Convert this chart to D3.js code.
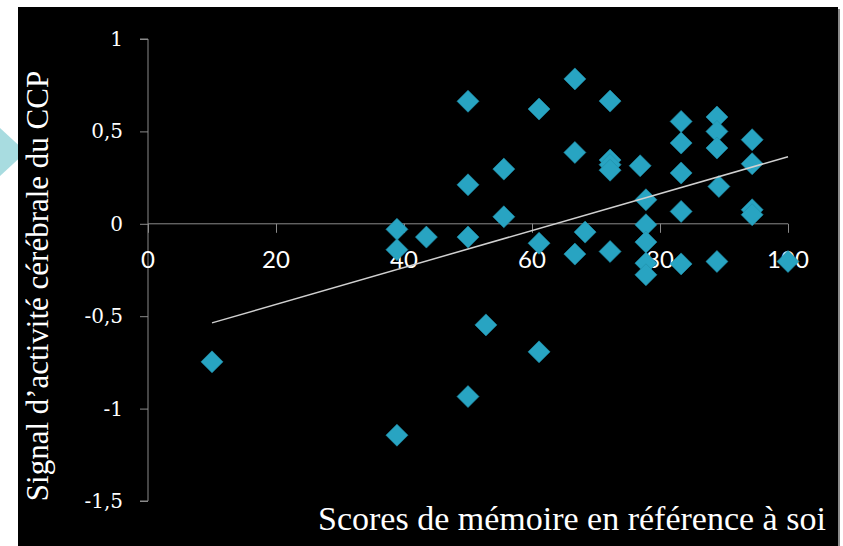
<!DOCTYPE html>
<html>
<head>
<meta charset="utf-8">
<script src="https://cdn.jsdelivr.net/npm/d3@7"></script>
<style>
  html, body { margin: 0; padding: 0; background: #ffffff; }
  svg { display: block; }
</style>
</head>
<body>
<svg id="chart" width="843" height="546"></svg>
<script>
// ---- data ----
const scoreX = [10, 38.9, 38.9, 38.9, 43.5, 50, 50, 50, 50, 52.8, 55.6, 55.6, 61.1, 61.1, 61.1,
  66.7, 66.7, 66.7, 68.3, 72.2, 72.2, 72.2, 72.2, 72.2, 76.9, 77.8, 77.8, 77.8, 77.8, 77.8,
  83.3, 83.3, 83.3, 83.3, 83.3, 88.9, 88.9, 88.9, 89.2, 88.9, 94.4, 94.4, 94.4, 94.4, 100];
const signalY = [-0.747, -0.03, -0.14, -1.144, -0.072, -0.072, 0.663, 0.211, -0.935, -0.547, 0.038, 0.296, 0.621, -0.105, -0.693,
  0.784, 0.386, -0.164, -0.045, 0.664, 0.345, 0.32, 0.29, -0.15, 0.314, 0.13, -0.005, -0.099, -0.213, -0.276,
  0.554, 0.437, 0.275, 0.067, -0.217, 0.578, 0.5, 0.41, 0.202, -0.204, 0.455, 0.325, 0.076, 0.049, -0.204];
const trendX = [10, 100];
const trendY = [-0.536, 0.363];
const xTicks = [0, 20, 40, 60, 80, 100];
const yTicks = [-1.5, -1, -0.5, 0, 0.5, 1];
const yTickLabels = ["-1,5", "-1", "-0,5", "0", "0,5", "1"];
const xTitle = "Scores de mémoire en référence à soi";
const yTitle = "Signal d\u2019activité cérébrale du CCP";

// ---- drawing ----
const svg = d3.select("#chart");

// decorative cyan arrow on the left (behind the slide)
svg.append("polygon")
  .attr("points", "0,128 0,176 26,152")
  .attr("fill", "#a8dce0");

// slide shadow + black slide
svg.append("rect")
  .attr("x", 20).attr("y", 9).attr("width", 820).attr("height", 545)
  .attr("fill", "#8a8a8a");
svg.append("rect")
  .attr("x", 18).attr("y", 7).attr("width", 820).attr("height", 545)
  .attr("fill", "#000000");

const x = d3.scaleLinear().domain([0, 100]).range([148, 788]);
const y = d3.scaleLinear().domain([-1.5, 1]).range([501, 39]);

const axisColor = "#8a8a8a";

// Y axis
const yAxis = svg.append("g").attr("transform", `translate(${x(0)},0)`)
  .call(d3.axisLeft(y).tickValues(yTicks).tickSize(8).tickFormat(""));
yAxis.select(".domain").attr("stroke", axisColor).attr("d", `M-8,${y(1)}H0V${y(-1.5)}H-8`);
yAxis.selectAll(".tick line").attr("stroke", axisColor);

svg.append("g").selectAll("text")
  .data(yTicks)
  .join("text")
  .attr("x", 123)
  .attr("y", d => y(d) + 7)
  .attr("text-anchor", "end")
  .attr("fill", "#ffffff")
  .attr("font-family", "DejaVu Serif, serif")
  .attr("font-size", 20)
  .text((d, i) => yTickLabels[i]);

// X axis
const xAxis = svg.append("g").attr("transform", `translate(0,${y(0)})`)
  .call(d3.axisBottom(x).tickValues(xTicks).tickSize(9).tickFormat(""));
xAxis.select(".domain").attr("stroke", axisColor).attr("d", `M${x(0)},0H${x(100)}`);
xAxis.selectAll(".tick line").attr("stroke", axisColor);

svg.append("g").selectAll("text")
  .data(xTicks)
  .join("text")
  .attr("x", d => x(d))
  .attr("y", 268)
  .attr("text-anchor", "middle")
  .attr("fill", "#ffffff")
  .attr("font-family", "Lato, Open Sans, sans-serif")
  .attr("font-size", 24)
  .text(d => d);

// Points
const diamond = d3.symbol().type(d3.symbolSquare).size(242);
svg.append("g").selectAll("path")
  .data(scoreX.map((v, i) => [v, signalY[i]]))
  .join("path")
  .attr("d", diamond)
  .attr("transform", d => `translate(${x(d[0])},${y(d[1])}) rotate(45)`)
  .attr("fill", "#28a4c2")
  .attr("stroke", "#1f8eaa")
  .attr("stroke-width", 0.6);

// Trend line
svg.append("path")
  .datum(trendX.map((v, i) => [v, trendY[i]]))
  .attr("d", d3.line().x(d => x(d[0])).y(d => y(d[1])))
  .attr("fill", "none")
  .attr("stroke", "#d0d0d0")
  .attr("stroke-width", 1.5);

// Titles
svg.append("text")
  .attr("x", 318).attr("y", 530)
  .attr("fill", "#ffffff")
  .attr("font-family", "Liberation Serif, serif")
  .attr("font-size", 34)
  .text(xTitle);

svg.append("text")
  .attr("transform", "translate(48,286) rotate(-90)")
  .attr("text-anchor", "middle")
  .attr("fill", "#ffffff")
  .attr("font-family", "Liberation Serif, serif")
  .attr("font-size", 31)
  .text(yTitle);
</script>
</body>
</html>
